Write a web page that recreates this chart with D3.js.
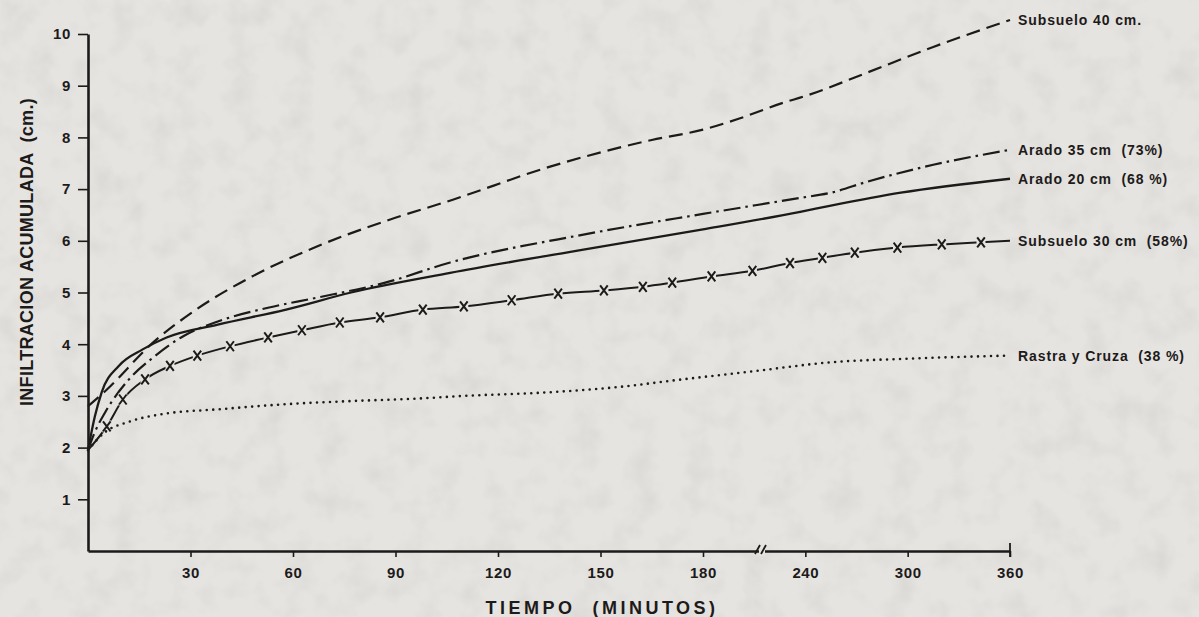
<!DOCTYPE html>
<html><head><meta charset="utf-8">
<script src="https://cdn.jsdelivr.net/npm/d3@7"></script>
<style>
html,body{margin:0;padding:0;background:#e6e4e1;}
svg{display:block;}
text{font-family:"Liberation Sans",Arial,sans-serif;font-weight:bold;fill:#1d1a1a;}
</style></head><body>
<svg id="c" width="1199" height="617"></svg>
<script>
// ---- data ----
const xTicks = [30, 60, 90, 120, 150, 180, 240, 300, 360];
const yTicks = [1, 2, 3, 4, 5, 6, 7, 8, 9, 10];

const tSub40 = [0, 5, 19, 31, 48, 67, 87, 107, 135, 165, 180, 200, 227, 240, 276, 315, 360];
const vSub40 = [2.8, 3.09, 4.03, 4.64, 5.31, 5.89, 6.38, 6.8, 7.43, 7.95, 8.15, 8.35, 8.67, 8.8, 9.25, 9.75, 10.27];

const tAr35 = [0, 2, 5, 12, 19, 28, 38, 53, 67, 87, 106, 145, 180, 237, 255, 276, 315, 360];
const vAr35 = [1.95, 2.3, 2.68, 3.32, 3.74, 4.16, 4.44, 4.71, 4.9, 5.19, 5.58, 6.12, 6.52, 6.83, 6.93, 7.14, 7.47, 7.76];

const tAr20 = [0, 2, 4, 9, 16, 23, 38, 58, 77, 106, 145, 180, 237, 255, 296, 360];
const vAr20 = [1.95, 2.6, 3.07, 3.58, 3.9, 4.13, 4.38, 4.67, 5.0, 5.38, 5.83, 6.22, 6.56, 6.68, 6.93, 7.2];

const tSub30 = [0, 5.5, 10.2, 16.7, 24, 32, 41.6, 52.7, 62.6, 73.7, 85.5, 98, 110, 124, 137.6, 151, 162.4, 171, 185, 209, 231, 250, 269, 294, 320, 343, 360];
const vSub30 = [1.95, 2.41, 2.93, 3.32, 3.58, 3.78, 3.96, 4.13, 4.27, 4.42, 4.52, 4.67, 4.73, 4.85, 4.98, 5.04, 5.11, 5.19, 5.31, 5.42, 5.57, 5.67, 5.77, 5.87, 5.93, 5.97, 6.0];
const sub30Markers = [false,true,true,true,true,true,true,true,true,true,true,true,true,true,true,true,true,true,true,true,true,true,true,true,true,true,false];

const tRastra = [0, 5, 12, 23, 38, 58, 77, 97, 110, 135, 155, 174, 208, 255, 300, 360];
const vRastra = [1.95, 2.3, 2.5, 2.66, 2.74, 2.84, 2.9, 2.95, 3.0, 3.07, 3.17, 3.32, 3.47, 3.65, 3.72, 3.78];

const seriesNames = ["Subsuelo 40 cm.", "Arado 35 cm  (73%)", "Arado 20 cm  (68 %)", "Subsuelo 30 cm  (58%)", "Rastra y Cruza  (38 %)"];

// ---- drawing ----
const ink = "#1d1a1a", bg = "#e6e4e1";
const svg = d3.select("#c");
const defs = svg.append("defs");
const f = defs.append("filter").attr("id","paper").attr("x",0).attr("y",0).attr("width","100%").attr("height","100%");
f.append("feTurbulence").attr("type","fractalNoise").attr("baseFrequency","0.035").attr("numOctaves",3).attr("seed",4).attr("result","n");
f.append("feColorMatrix").attr("in","n").attr("type","matrix")
  .attr("values","0 0 0 0 0.35  0 0 0 0 0.34  0 0 0 0 0.33  0 0 0 -0.9 0.5");
svg.append("rect").attr("width",1199).attr("height",617).attr("fill",bg);
svg.append("rect").attr("width",1199).attr("height",617).attr("fill","#fff").attr("filter","url(#paper)").attr("opacity",0.35);

const x = d3.scaleLinear().domain([0,180,360]).range([88,703,1010]);
const y = d3.scaleLinear().domain([0,10]).range([551,34]);

const series = [
  {t:tSub40, v:vSub40, dash:"14,7", w:2.2},
  {t:tAr35, v:vAr35, dash:"17,5,2.5,5", w:2.2},
  {t:tAr20, v:vAr20, dash:null, w:2.3},
  {t:tSub30, v:vSub30, dash:null, w:2.0, markers:sub30Markers},
  {t:tRastra, v:vRastra, dash:"0,6.5", w:2.6, round:true}
];

const line = d3.line().x(d=>x(d[0])).y(d=>y(d[1])).curve(d3.curveMonotoneX);

series.forEach((s,i)=>{
  const pts = s.t.map((t,j)=>[t, s.v[j]]);
  const p = svg.append("path").attr("d", line(pts)).attr("fill","none")
    .attr("stroke", ink).attr("stroke-width", s.w);
  if (s.dash) p.attr("stroke-dasharray", s.dash);
  if (s.round) p.attr("stroke-linecap","round");
  if (s.markers) {
    const g = svg.append("g");
    pts.forEach((d,j)=>{
      if (!s.markers[j]) return;
      const mx = x(d[0]), my = y(d[1]);
      g.append("rect").attr("x",mx-4.5).attr("y",my-6).attr("width",9).attr("height",12).attr("fill",bg);
      g.append("path").attr("d",`M${mx-3.8},${my-5} L${mx+3.8},${my+5} M${mx+3.8},${my-5} L${mx-3.8},${my+5}`)
        .attr("stroke",ink).attr("stroke-width",2).attr("fill","none");
    });
  }
  const last = pts[pts.length-1];
  svg.append("text").attr("x", x(last[0])+8).attr("y", y(last[1])).attr("dy","0.36em")
    .attr("font-size",14).style("letter-spacing","0.9px").style("white-space","pre")
    .text(seriesNames[i]);
});

// axes
const xAxis = svg.append("g").attr("transform","translate(0,551)")
  .call(d3.axisBottom(x).tickValues(xTicks).tickSize(6).tickSizeOuter(0).tickPadding(10).tickFormat(d3.format("d")));
const yAxis = svg.append("g").attr("transform","translate(88,0)")
  .call(d3.axisLeft(y).tickValues(yTicks).tickSize(10).tickSizeOuter(0).tickPadding(7).tickFormat(d3.format("d")));
[xAxis,yAxis].forEach(a=>{
  a.selectAll("path.domain").attr("stroke",ink).attr("stroke-width",2.6);
  a.selectAll(".tick line").attr("stroke",ink).attr("stroke-width",1.6);
  a.selectAll(".tick text").attr("font-size",15).attr("fill",ink)
    .style("font-family","'Liberation Sans',Arial,sans-serif").style("font-weight","bold").style("letter-spacing","0.6px");
});
// end cap at 360
svg.append("line").attr("x1",x(360)).attr("x2",x(360)).attr("y1",543).attr("y2",557).attr("stroke",ink).attr("stroke-width",1.8);
// axis break
const bx = 763;
svg.append("rect").attr("x",bx-4).attr("y",546).attr("width",6).attr("height",10).attr("fill",bg);
svg.append("path").attr("d",`M${bx-8},554 L${bx-3},545 M${bx-2},554 L${bx+3},545`).attr("stroke",ink).attr("stroke-width",1.8).attr("fill","none");

// titles
svg.append("text").attr("x",602).attr("y",608).attr("dy","0.36em").attr("text-anchor","middle")
  .attr("font-size",18).style("letter-spacing","3.5px").style("white-space","pre").text("TIEMPO  (MINUTOS)");
svg.append("text").attr("transform","translate(27,252) rotate(-90)").attr("dy","0.36em").attr("text-anchor","middle")
  .attr("font-size",18).style("letter-spacing","0.3px").style("white-space","pre").text("INFILTRACION ACUMULADA  (cm.)");
</script>
</body></html>
